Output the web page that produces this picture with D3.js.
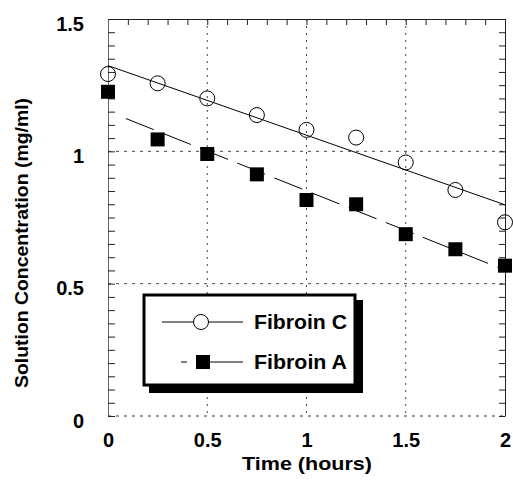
<!DOCTYPE html>
<html lang="en">
<head>
    <meta charset="UTF-8">
    <title>Fibroin solution concentration</title>
    <script src="https://d3js.org/d3.v7.min.js" charset="utf-8"></script>
    <style>
        body { margin: 0; background: #fff; }
        text { font-family: "Liberation Sans", Arial, sans-serif; font-weight: bold; fill: #000; }
    </style>
</head>
<body>
    <div id="vis"></div>
    <script>

        // data
        var times = [0, 0.25, 0.5, 0.75, 1, 1.25, 1.5, 1.75, 2];
        var fibroinC = [1.292, 1.257, 1.200, 1.137, 1.081, 1.052, 0.958, 0.854, 0.732];
        var fibroinA = [1.225, 1.045, 0.990, 0.913, 0.816, 0.800, 0.687, 0.630, 0.568];

        // fitted lines (end points)
        var fitCX = [0, 2];
        var fitCY = [1.324, 0.798];
        var fitAX = [0.09, 2];
        var fitAY = [1.124, 0.551];

        var xTickLabels = [0, 0.5, 1, 1.5, 2];
        var yTickLabels = [0, 0.5, 1, 1.5];
        var xGrid = [0.5, 1, 1.5];
        var yGrid = [0.5, 1];

        var width = 513;
        var height = 484;

        var margin = {
          top: 19,
          left: 108,
          right: 8,
          bottom: 68
        };

        var svg = d3.select("#vis")
            .append("svg")
            .attr("width", width)
            .attr("height", height);

        var w = width - margin.left - margin.right;
        var h = height - margin.top - margin.bottom;

        var g = svg.append("g")
            .attr("transform", "translate(" + margin.left + "," + margin.top + ")");

        var x_scale = d3.scaleLinear().domain([0, 2]).range([0, w]);
        var y_scale = d3.scaleLinear().domain([0, 1.5]).range([h, 0]);

        // gridlines
        g.selectAll(".hgrid")
            .data(yGrid)
            .enter().append("line")
            .attr("class", "hgrid")
            .attr("x1", 0).attr("x2", w)
            .attr("y1", function(d){ return y_scale(d); })
            .attr("y2", function(d){ return y_scale(d); })
            .attr("stroke", "#444")
            .attr("stroke-dasharray", "3,5");

        g.selectAll(".vgrid")
            .data(xGrid)
            .enter().append("line")
            .attr("class", "vgrid")
            .attr("y1", 0).attr("y2", h)
            .attr("x1", function(d){ return x_scale(d); })
            .attr("x2", function(d){ return x_scale(d); })
            .attr("stroke", "#444")
            .attr("stroke-dasharray", "2,5");

        // bottom edge is dashed
        g.append("line")
            .attr("x1", 0).attr("x2", w)
            .attr("y1", y_scale(0)).attr("y2", y_scale(0))
            .attr("stroke", "#333")
            .attr("stroke-dasharray", "3,5");

        // frame axes with inward ticks
        var minorY = d3.range(0, 1.5001, 0.05);
        var minorX = d3.range(0, 2.0001, 0.1);

        g.append("g")
            .attr("class", "axis top")
            .call(d3.axisTop(x_scale).tickValues(minorX).tickSizeInner(-6).tickSizeOuter(0).tickFormat(""));

        g.append("g")
            .attr("class", "axis right")
            .attr("transform", "translate(" + w + ",0)")
            .call(d3.axisRight(y_scale).tickValues(minorY).tickSizeInner(-6).tickSizeOuter(0).tickFormat(""));

        g.append("g")
            .attr("class", "axis left")
            .call(d3.axisLeft(y_scale).tickValues(minorY).tickSizeInner(-7).tickSizeOuter(0).tickPadding(24)
                .tickFormat(function(d){
                    var r = Math.round(d * 100) / 100;
                    return yTickLabels.indexOf(r) >= 0 ? d3.format("~g")(r) : "";
                }));

        g.append("g")
            .attr("class", "axis bottom")
            .attr("transform", "translate(0," + h + ")")
            .call(d3.axisBottom(x_scale).tickValues(xTickLabels).tickSize(0).tickPadding(17).tickFormat(d3.format("~g")))
            .call(function(a){ a.select(".domain").remove(); });

        g.selectAll(".axis path, .axis line").attr("stroke", "#222");
        g.select(".axis.left .domain").attr("stroke", "#666");
        g.selectAll(".axis text")
            .style("font-size", "20px")
            .style("font-family", "'Liberation Sans', Arial, sans-serif")
            .style("font-weight", "bold")
            .attr("fill", "#000");
        g.selectAll(".axis.left text").attr("dy", "0.55em");

        // fitted lines
        var line = d3.line()
            .x(function(d){ return x_scale(d[0]); })
            .y(function(d){ return y_scale(d[1]); });

        g.append("path")
            .datum(d3.zip(fitCX, fitCY))
            .attr("d", line)
            .attr("fill", "none")
            .attr("stroke", "#000")
            .attr("stroke-width", 1);

        g.append("path")
            .datum(d3.zip(fitAX, fitAY))
            .attr("d", line)
            .attr("fill", "none")
            .attr("stroke", "#000")
            .attr("stroke-width", 1)
            .attr("stroke-dasharray", "30,10");

        // markers
        g.selectAll(".ptC")
            .data(d3.zip(times, fibroinC))
            .enter().append("circle")
            .attr("class", "ptC")
            .attr("cx", function(d){ return x_scale(d[0]); })
            .attr("cy", function(d){ return y_scale(d[1]); })
            .attr("r", 7.5)
            .attr("fill", "none")
            .attr("stroke", "#000");

        g.selectAll(".ptA")
            .data(d3.zip(times, fibroinA))
            .enter().append("rect")
            .attr("class", "ptA")
            .attr("x", function(d){ return x_scale(d[0]) - 7; })
            .attr("y", function(d){ return y_scale(d[1]) - 7; })
            .attr("width", 14)
            .attr("height", 14)
            .attr("fill", "#000");

        // legend
        var legend = svg.append("g").attr("transform", "translate(144,295)");
        legend.append("rect")
            .attr("x", 5).attr("y", 5)
            .attr("width", 214).attr("height", 93)
            .attr("fill", "#000");
        legend.append("rect")
            .attr("x", 0).attr("y", 0)
            .attr("width", 211).attr("height", 90)
            .attr("fill", "#fff")
            .attr("stroke", "#000")
            .attr("stroke-width", 3);

        legend.append("line")
            .attr("x1", 18).attr("x2", 99)
            .attr("y1", 27).attr("y2", 27)
            .attr("stroke", "#000");
        legend.append("circle")
            .attr("cx", 57).attr("cy", 27).attr("r", 7.5)
            .attr("fill", "#fff").attr("stroke", "#000");
        legend.append("text")
            .attr("x", 110).attr("y", 34)
            .attr("textLength", 93)
            .attr("lengthAdjust", "spacingAndGlyphs")
            .style("font-size", "20px")
            .text("Fibroin C");

        legend.append("line")
            .attr("x1", 37).attr("x2", 99)
            .attr("y1", 67).attr("y2", 67)
            .attr("stroke", "#000")
            .attr("stroke-dasharray", "6,9,50");
        legend.append("rect")
            .attr("x", 52).attr("y", 60)
            .attr("width", 14).attr("height", 14)
            .attr("fill", "#000");
        legend.append("text")
            .attr("x", 110).attr("y", 74)
            .attr("textLength", 93)
            .attr("lengthAdjust", "spacingAndGlyphs")
            .style("font-size", "20px")
            .text("Fibroin A");

        // axis titles
        svg.append("text")
            .attr("x", 307).attr("y", 470)
            .attr("text-anchor", "middle")
            .attr("textLength", 130)
            .attr("lengthAdjust", "spacingAndGlyphs")
            .style("font-size", "19px")
            .text("Time (hours)");

        svg.append("text")
            .attr("transform", "translate(28,243) rotate(-90)")
            .attr("text-anchor", "middle")
            .attr("textLength", 290)
            .attr("lengthAdjust", "spacingAndGlyphs")
            .style("font-size", "19px")
            .text("Solution Concentration (mg/ml)");

    </script>
</body>
</html>
